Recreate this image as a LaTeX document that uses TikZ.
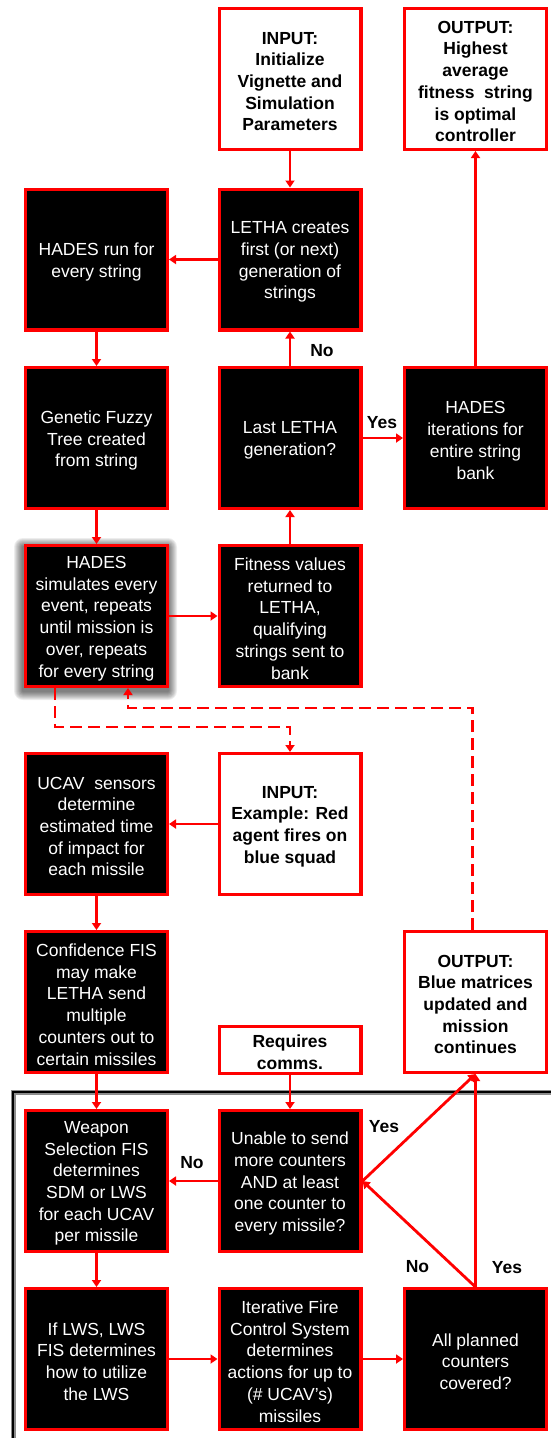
\documentclass[tikz,border=0pt]{standalone}
\usepackage{fontspec}
\setmainfont{Liberation Sans}
\usetikzlibrary{arrows.meta}
\newcommand\mybox[5]{\node[#4] (#1) at (#2,#3) {}; \node[#4txt] (#1t) at (#2,{#3+2.5}) {#5};}
\begin{document}
\begin{tikzpicture}[x=1pt,y=-1pt,
  blk/.style={draw=red, line width=3.2pt, fill=black, minimum width=141.8pt, minimum height=140.8pt, inner sep=0pt},
  wht/.style={blk, fill=white},
  blktxt/.style={inner sep=0pt, align=center, text=white, font=\fontsize{17.5}{21.7}\selectfont},
  whttxt/.style={inner sep=0pt, align=center, text=black, font=\fontsize{17.5}{21.7}\selectfont\bfseries},
  shortwht/.style={wht, minimum height=46.8pt},
  shortwhttxt/.style={whttxt},
  arr/.style={draw=red, line width=2.8pt, -{Triangle[length=7pt,width=9pt]}},
  dsh/.style={arr, dash pattern=on 12pt off 6pt},
  lbl/.style={font=\fontsize{17.5}{21}\selectfont\bfseries, inner sep=0pt, text=black}]
\useasboundingbox (0,0) rectangle (550,1438);
\fill[white] (0,0) rectangle (550,1438);
% frame
\draw[black!45, line width=5pt] (13,1092) rectangle (620,1500);
\draw[black, line width=2.6pt] (13,1092) rectangle (620,1500);
% shadow
\foreach \i in {1,...,9}
  \fill[black, opacity=0.07, rounded corners=\i pt] ({95.5-72.5-\i},{619-72-\i}) rectangle ({95.5+72.5+\i},{619+72+\i});
% nodes
\mybox{inp}{290}{79}{wht}{INPUT:\\Initialize\\Vignette and\\Simulation\\Parameters}
\mybox{outt}{475.5}{79}{wht}{OUTPUT:\\Highest\\average\\fitness\ \ string\\is optimal\\controller}
\mybox{hrun}{96.5}{259.5}{blk}{HADES run for\\every string}
\mybox{leth}{290}{259.5}{blk}{LETHA creates\\first (or next)\\generation of\\strings}
\mybox{gft}{96.5}{438}{blk}{Genetic Fuzzy\\Tree created\\from string}
\mybox{last}{290}{438}{blk}{Last LETHA\\generation?}
\mybox{hit}{475.5}{438}{blk}{HADES\\iterations for\\entire string\\bank}
\mybox{hsim}{96.5}{616}{blk}{HADES\\simulates every\\event, repeats\\until mission is\\over, repeats\\for every string}
\mybox{fit}{290}{616}{blk}{Fitness values\\returned to\\LETHA,\\qualifying\\strings sent to\\bank}
\mybox{ucav}{96.5}{824}{blk}{UCAV\ \ sensors\\determine\\estimated time\\of impact for\\each missile}
\mybox{inex}{290}{824}{wht}{INPUT:\\Example: Red\\agent fires on\\blue squad}
\mybox{conf}{96.5}{1002}{blk}{Confidence FIS\\may make\\LETHA send\\multiple\\counters out to\\certain missiles}
\mybox{outb}{475.5}{1002}{wht}{OUTPUT:\\Blue matrices\\updated and\\mission\\continues}
\mybox{req}{290}{1050}{shortwht}{Requires\\comms.}
\mybox{weap}{96.5}{1181}{blk}{Weapon\\Selection FIS\\determines\\SDM or LWS\\for each UCAV\\per missile}
\mybox{unab}{290}{1181}{blk}{Unable to send\\more counters\\AND at least\\one counter to\\every missile?}
\mybox{lws}{96.5}{1359}{blk}{If LWS, LWS\\FIS determines\\how to utilize\\the LWS}
\mybox{ifc}{290}{1359}{blk}{Iterative\ Fire\\Control System\\determines\\actions for up to\\(\# UCAV’s)\\missiles}
\mybox{allp}{475.5}{1359}{blk}{All planned\\counters\\covered?}
% connectors
\draw[arr] (inp) -- (leth);
\draw[arr] (leth) -- (hrun);
\draw[arr] (hrun) -- (gft);
\draw[arr] (gft) -- (hsim);
\draw[arr] (hsim) -- (fit);
\draw[arr] (fit) -- (last);
\draw[arr] (last) -- (leth);
\draw[arr] (last) -- (hit);
\draw[arr] (hit) -- (outt);
\draw[arr] (inex) -- (ucav);
\draw[arr] (ucav) -- (conf);
\draw[arr] (conf) -- (weap);
\draw[arr] (req) -- (unab);
\draw[arr] (unab) -- (weap);
\draw[arr] (weap) -- (lws);
\draw[arr] (lws) -- (ifc);
\draw[arr] (ifc) -- (allp);
\draw[arr] (allp.north) -- (unab.east);
\draw[arr] (unab.east) -- (outb.south);
\draw[arr] (allp.north) -- (outb.south);
% dashed
\coordinate (d1) at (200,727);
\coordinate (d2) at (300,708);
\draw[dsh] ([xshift=-41.5pt]hsim.south) |- (d1) -| (inex.north);
\draw[dsh] ([xshift=-3pt]outb.north) |- (d2) -| ([xshift=31.5pt]hsim.south);
% labels
\node[lbl] (l1) at (322,351) {No};
\node[lbl] (l2) at (382,423) {Yes};
\node[lbl] (l3) at (384,1127) {Yes};
\node[lbl] (l4) at (192,1163) {No};
\node[lbl] (l5) at (417.5,1267) {No};
\node[lbl] (l6) at (507,1268) {Yes};
\end{tikzpicture}
\end{document}
